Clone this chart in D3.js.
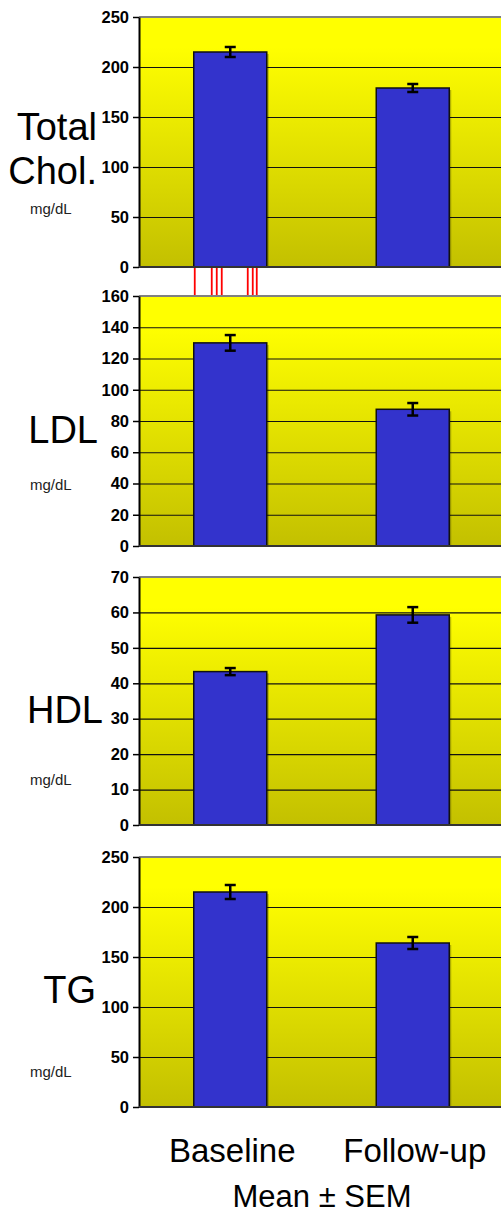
<!DOCTYPE html>
<html>
<head>
<meta charset="utf-8">
<script src="https://cdn.jsdelivr.net/npm/d3@7"></script>
<style>
  body { margin: 0; background: #fff; }
  svg { display: block; }
</style>
</head>
<body>
<div id="chart"></div>
<script>
  'use strict';

  const FONT_FAMILY = 'Liberation Sans, Arial, Helvetica, sans-serif';
  const WIDTH = 501;
  const HEIGHT = 1215;

  // Data.
  const groups = ['Baseline', 'Follow-up'];
  const panelNames = [['Total', 'Chol.'], ['LDL'], ['HDL'], ['TG']];
  const unitLabel = 'mg/dL';
  const yMax = [250, 160, 70, 250];
  const yStep = [50, 20, 10, 50];
  const cholMean = [215, 179];
  const cholSem = [5, 4];
  const ldlMean = [130, 87.5];
  const ldlSem = [5, 4];
  const hdlMean = [43.3, 59.3];
  const hdlSem = [1, 2.2];
  const tgMean = [215, 164];
  const tgSem = [7, 6];
  const means = [cholMean, ldlMean, hdlMean, tgMean];
  const sems = [cholSem, ldlSem, hdlSem, tgSem];
  const footer = 'Mean \u00b1 SEM';

  // Layout (pixels).
  const plotLeft = 139;
  const plotRight = 504;
  const panelTop = [17, 296, 577, 857];
  const panelHeight = [250, 250, 248, 250];
  const nameX = [97, 98, 103, 96];
  const nameY = [[123, 167], [147], [146], [146]];
  const unitY = [197, 194, 208, 220];
  // Stray red strokes under the first baseline bar (offset from bar edge).
  const redOffsets = [1, 18, 23, 28, 54, 59, 63];

  let svg = d3.select('#chart')
    .append('svg')
    .attr('width', WIDTH)
    .attr('height', HEIGHT)
    .style('font-family', FONT_FAMILY);

  let defs = svg.append('defs');
  let grad = defs.append('linearGradient')
    .attr('id', 'bg')
    .attr('x1', 0).attr('y1', 0).attr('x2', 0).attr('y2', 1);
  grad.append('stop').attr('offset', 0).attr('stop-color', '#ffff00');
  grad.append('stop').attr('offset', 0.12).attr('stop-color', '#ffff00');
  grad.append('stop').attr('offset', 1).attr('stop-color', '#c3c000');

  let x = d3.scaleBand()
    .domain(groups)
    .range([plotLeft, plotRight])
    .paddingInner(0.6)
    .paddingOuter(0.3);

  panelNames.forEach(function (names, p) {
    let top = panelTop[p];
    let h = panelHeight[p];
    let y = d3.scaleLinear()
      .domain([0, yMax[p]])
      .range([top + h, top]);
    let ticks = d3.range(0, yMax[p] + 0.001, yStep[p]);

    let g = svg.append('g');

    // Plot background.
    g.append('rect')
      .attr('x', plotLeft)
      .attr('y', y(yMax[p]))
      .attr('width', plotRight - plotLeft)
      .attr('height', y(0) - y(yMax[p]))
      .attr('fill', 'url(#bg)');

    // Gridlines.
    g.selectAll('line.grid')
      .data(ticks.filter(t => t > 0 && t < yMax[p]))
      .enter()
      .append('line')
      .attr('x1', plotLeft)
      .attr('x2', plotRight)
      .attr('y1', t => y(t) + 0.5)
      .attr('y2', t => y(t) + 0.5)
      .attr('stroke', '#111')
      .attr('stroke-width', 1.2);

    // Top border.
    g.append('line')
      .attr('x1', plotLeft)
      .attr('x2', plotRight)
      .attr('y1', y(yMax[p]))
      .attr('y2', y(yMax[p]))
      .attr('stroke', '#808080')
      .attr('stroke-width', 2);

    // Bar shadows.
    g.selectAll('rect.shadow')
      .data(groups)
      .enter()
      .append('rect')
      .attr('x', d => x(d) + 2)
      .attr('y', (d, i) => y(means[p][i]) + 2)
      .attr('width', x.bandwidth())
      .attr('height', (d, i) => y(0) - y(means[p][i]) - 2)
      .attr('fill', '#000')
      .attr('opacity', 0.25);

    // Bars.
    g.selectAll('rect.bar')
      .data(groups)
      .enter()
      .append('rect')
      .attr('x', d => x(d))
      .attr('y', (d, i) => y(means[p][i]))
      .attr('width', x.bandwidth())
      .attr('height', (d, i) => y(0) - y(means[p][i]))
      .attr('fill', '#3333cc')
      .attr('stroke', '#111')
      .attr('stroke-width', 1.5);

    // Error bars.
    groups.forEach(function (d, i) {
      let cx = x(d) + x.bandwidth() / 2;
      let lo = y(means[p][i] - sems[p][i]);
      let hi = y(means[p][i] + sems[p][i]);
      g.append('line')
        .attr('x1', cx).attr('x2', cx)
        .attr('y1', lo).attr('y2', hi)
        .attr('stroke', '#000').attr('stroke-width', 2.5);
      [lo, hi].forEach(function (yy) {
        g.append('line')
          .attr('x1', cx - 5.5).attr('x2', cx + 5.5)
          .attr('y1', yy).attr('y2', yy)
          .attr('stroke', '#000').attr('stroke-width', 2.5);
      });
    });

    // Y axis.
    let axis = g.append('g')
      .attr('transform', 'translate(' + plotLeft + ',0)')
      .call(d3.axisLeft(y).tickValues(ticks).tickSize(6).tickPadding(4).tickSizeOuter(0));
    axis.select('.domain').attr('stroke', '#000').attr('stroke-width', 2);
    axis.selectAll('.tick line').attr('stroke', '#000').attr('stroke-width', 1.5);
    axis.selectAll('.tick text')
      .attr('fill', '#000')
      .style('font-size', '16.5px')
      .style('font-weight', 'bold')
      .style('font-family', FONT_FAMILY);

    // Bottom axis line.
    g.append('line')
      .attr('x1', plotLeft)
      .attr('x2', plotRight)
      .attr('y1', y(0))
      .attr('y2', y(0))
      .attr('stroke', '#333')
      .attr('stroke-width', 2);

    // Panel label.
    names.forEach(function (n, k) {
      g.append('text')
        .attr('x', nameX[p])
        .attr('y', top + nameY[p][k])
        .attr('text-anchor', 'end')
        .style('font-size', '38px')
        .attr('fill', '#000')
        .text(n);
    });
    g.append('text')
      .attr('x', 30)
      .attr('y', top + unitY[p])
      .style('font-size', '15px')
      .attr('fill', '#222')
      .text(unitLabel);
  });

  // Stray red strokes between first two panels.
  let y0 = panelTop[0] + panelHeight[0] + 1;
  svg.selectAll('line.red')
    .data(redOffsets)
    .enter()
    .append('line')
    .attr('x1', d => x(groups[0]) + d)
    .attr('x2', d => x(groups[0]) + d)
    .attr('y1', y0)
    .attr('y2', panelTop[1] - 1)
    .attr('stroke', '#ff0000')
    .attr('stroke-width', 1.8);

  // Category labels.
  svg.selectAll('text.cat')
    .data(groups)
    .enter()
    .append('text')
    .attr('x', d => x(d) + x.bandwidth() / 2 + 2)
    .attr('y', 1162)
    .attr('text-anchor', 'middle')
    .style('font-size', '33px')
    .attr('fill', '#000')
    .text(d => d);

  svg.append('text')
    .attr('x', 322)
    .attr('y', 1207)
    .attr('text-anchor', 'middle')
    .style('font-size', '31px')
    .attr('fill', '#000')
    .text(footer);
</script>
</body>
</html>
